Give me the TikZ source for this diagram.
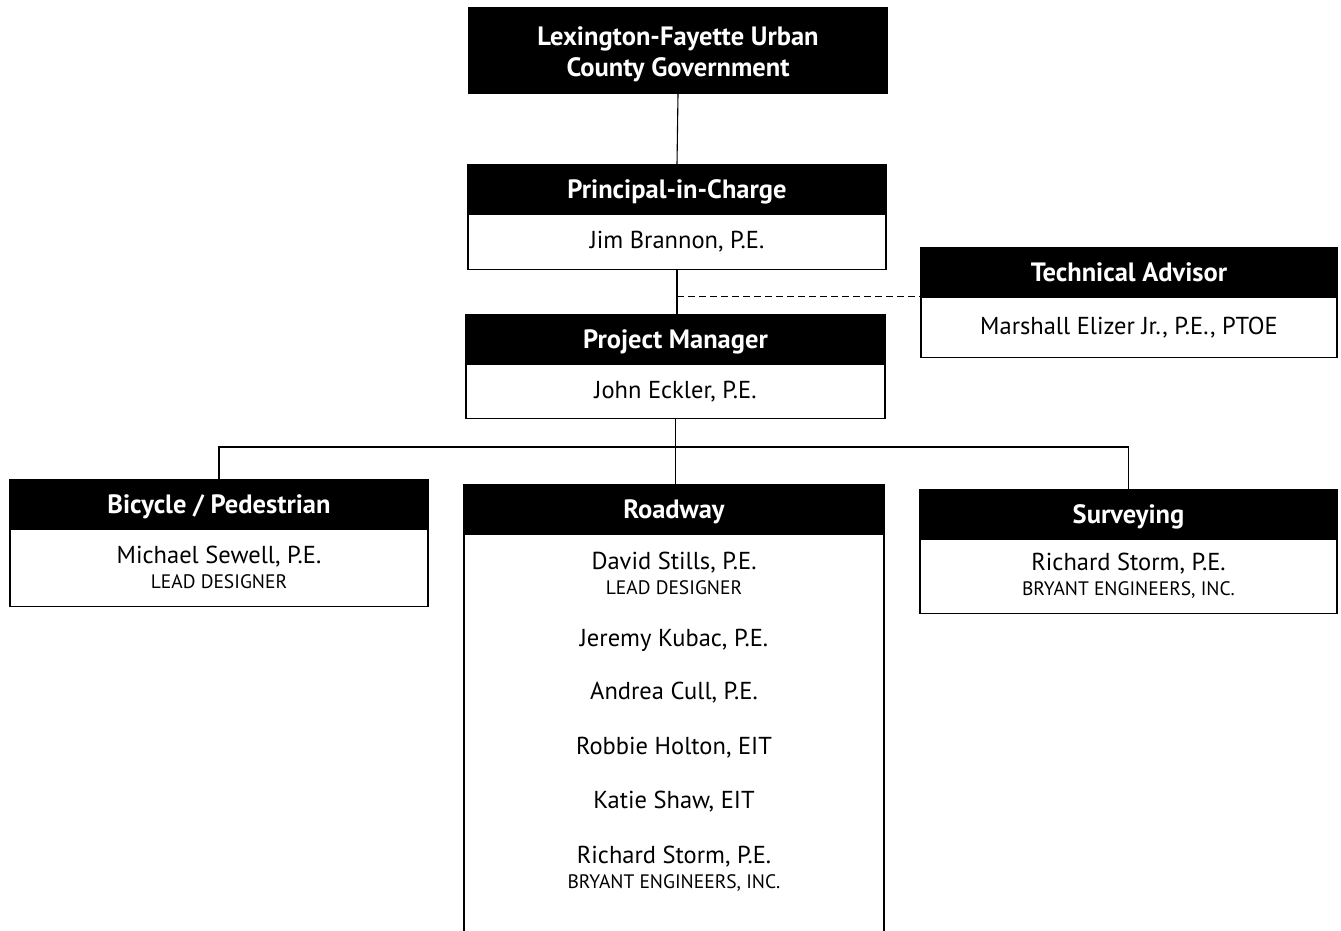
\documentclass[tikz,border=0pt]{standalone}
\usepackage{fontspec}
\setmainfont{PT Sans}
\usepackage{xcolor}
\usepackage{tikz}

\tikzset{
  headbox/.style={draw=black, fill=black, text=white, line width=1.2pt, inner sep=0pt,
    minimum height=48pt, text height=18pt, text depth=0pt,
    font=\fontsize{26.5}{31}\selectfont\bfseries, align=center},
  bodybox/.style={draw=black, fill=white, line width=1.2pt, inner sep=0pt,
    font=\fontsize{24.5}{28}\selectfont, align=center},
  namebox/.style={inner sep=0pt, font=\fontsize{24.5}{28}\selectfont, align=center},
  link/.style={draw=black, line width=1.1pt}
}
\newcommand{\firm}[1]{{\fontsize{19.5}{22}\selectfont #1}}

\begin{document}
\begin{tikzpicture}[x=1pt,y=-1pt]
\useasboundingbox (0,0) rectangle (1341,930);
\clip (0,0) rectangle (1341,930);

    % top of the chart
    \node[headbox, minimum width=418pt, minimum height=85pt, text height=52pt] (lfucg)
        at (678,50.5) {Lexington-Fayette Urban\\County Government};

    \node[headbox, minimum width=418pt] (pichead) at (677,189) {Principal-in-Charge};
    \node[bodybox, minimum width=418pt, minimum height=55pt, anchor=north] (picbody)
        at (pichead.south) {Jim Brannon, P.E.};

    \node[headbox, minimum width=419pt] (pmhead) at (675.5,339) {Project Manager};
    \node[bodybox, minimum width=419pt, minimum height=54pt, anchor=north] (pmbody)
        at (pmhead.south) {John Eckler, P.E.};

    \node[headbox, minimum width=416pt] (tahead) at (1129,272) {Technical Advisor};
    \node[bodybox, minimum width=416pt, minimum height=60pt, anchor=north] (tabody)
        at (tahead.south) {Marshall Elizer Jr., P.E., PTOE};

    % the three groups
    \node[headbox, minimum width=418pt] (bikehead) at (219,504) {Bicycle / Pedestrian};
    \node[bodybox, minimum width=418pt, minimum height=77pt, anchor=north] (bikebody)
        at (bikehead.south) {Michael Sewell, P.E.\\[-3pt]\firm{LEAD DESIGNER}};

    \node[headbox, minimum width=420pt] (roadhead) at (674,509) {Roadway};
    \node[bodybox, minimum width=420pt, minimum height=430pt, anchor=north] (roadbody)
        at (roadhead.south) {};

    \node[headbox, minimum width=417pt] (survhead) at (1128.5,514) {Surveying};
    \node[bodybox, minimum width=417pt, minimum height=74pt, anchor=north] (survbody)
        at (survhead.south) {Richard Storm, P.E.\\[-3pt]\firm{BRYANT ENGINEERS, INC.}};

    % roadway staff
    \node[namebox] (stills) at (674,573) {David Stills, P.E.\\[-3pt]\firm{LEAD DESIGNER}};
    \node[namebox] (kubac) at (674,640) {Jeremy Kubac, P.E.};
    \node[namebox] (cull) at (674,693) {Andrea Cull, P.E.};
    \node[namebox] (holton) at (674,748) {Robbie Holton, EIT};
    \node[namebox] (shaw) at (674,802) {Katie Shaw, EIT};
    \node[namebox] (storm) at (674,869) {Richard Storm, P.E.\\[-3pt]\firm{BRYANT ENGINEERS, INC.}};

    % draw the lines
    \coordinate (split) at (673,447);
    \draw[link] (lfucg.south) -- (pichead.north);
    \draw[link] (picbody.south) -- (picbody.south |- pmhead.north);
    \draw[link, dash pattern=on 7pt off 4pt] (picbody.south |- tabody.north) -- (tabody.north west);
    \draw[link] (pmbody.south) -- (pmbody.south |- split);
    \draw[link] (bikehead.north) -- (bikehead.north |- split) -- (survhead.north |- split)
        -- (survhead.north);
    \draw[link] (pmbody.south |- split) -- (pmbody.south |- roadhead.north);

\end{tikzpicture}
\end{document}
